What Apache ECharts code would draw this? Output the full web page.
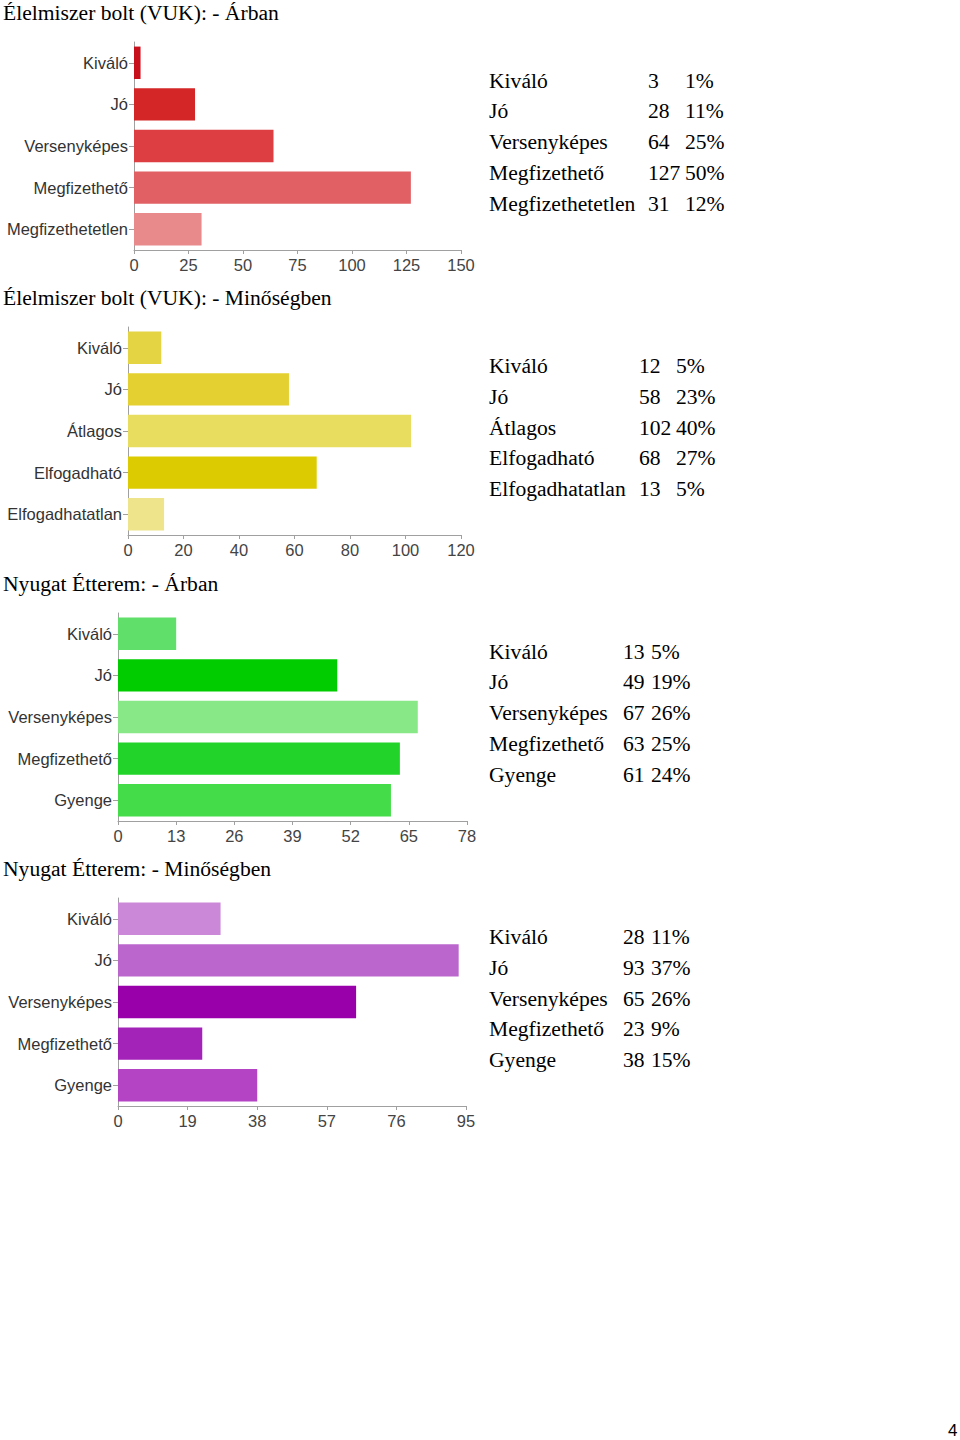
<!DOCTYPE html>
<html>
<head>
<meta charset="utf-8">
<script src="https://cdn.jsdelivr.net/npm/echarts@6/dist/echarts.min.js"></script>
<style>
html,body{margin:0;padding:0;background:#fff;}
#c{width:960px;height:1440px;}
</style>
</head>
<body>
<div id="c"></div>
<script>
// ---- data ----
const title1 = 'Élelmiszer bolt (VUK): - Árban';
const cats1 = ['Kiváló','Jó','Versenyképes','Megfizethető','Megfizethetetlen'];
const vals1 = [3,28,64,127,31];
const pcts1 = ['1%','11%','25%','50%','12%'];
const ticks1 = [0,25,50,75,100,125,150];

const title2 = 'Élelmiszer bolt (VUK): - Minőségben';
const cats2 = ['Kiváló','Jó','Átlagos','Elfogadható','Elfogadhatatlan'];
const vals2 = [12,58,102,68,13];
const pcts2 = ['5%','23%','40%','27%','5%'];
const ticks2 = [0,20,40,60,80,100,120];

const title3 = 'Nyugat Étterem: - Árban';
const cats3 = ['Kiváló','Jó','Versenyképes','Megfizethető','Gyenge'];
const vals3 = [13,49,67,63,61];
const pcts3 = ['5%','19%','26%','25%','24%'];
const ticks3 = [0,13,26,39,52,65,78];

const title4 = 'Nyugat Étterem: - Minőségben';
const cats4 = ['Kiváló','Jó','Versenyképes','Megfizethető','Gyenge'];
const vals4 = [28,93,65,23,38];
const pcts4 = ['11%','37%','26%','9%','15%'];
const ticks4 = [0,19,38,57,76,95];

const pageNumber = '4';

// ---- styles ----
const colors1 = ['#c8101c','#d42626','#dc3e42','#e06064','#e88a8c'];
const colors2 = ['#e4d444','#e4d030','#e9dd60','#dccb00','#ede48c'];
const colors3 = ['#60e06a','#00cc00','#88e888','#22d42a','#44dc48'];
const colors4 = ['#cc88d8','#bb66cc','#9900aa','#a322b8','#b444c4'];

const panels = [
  {title:title1,cats:cats1,vals:vals1,pcts:pcts1,ticks:ticks1,colors:colors1,
   titleY:13, left:134, right:461, top:42, tableY:80.5, cntX:648, pctX:685},
  {title:title2,cats:cats2,vals:vals2,pcts:pcts2,ticks:ticks2,colors:colors2,
   titleY:298, left:128, right:461, top:327, tableY:366, cntX:639, pctX:676},
  {title:title3,cats:cats3,vals:vals3,pcts:pcts3,ticks:ticks3,colors:colors3,
   titleY:584, left:118, right:467, top:613, tableY:651.5, cntX:623, pctX:651},
  {title:title4,cats:cats4,vals:vals4,pcts:pcts4,ticks:ticks4,colors:colors4,
   titleY:869, left:118, right:466, top:898, tableY:937, cntX:623, pctX:651}
];

const chart = echarts.init(document.getElementById('c'), null, {renderer:'svg'});
const axisColor = '#a0a0a0';
const sans = 'Liberation Sans, Arial, sans-serif';
const serif = 'Liberation Serif, Times New Roman, serif';
const serifFont = '21.6px ' + serif;

const grid = [], xAxis = [], yAxis = [], series = [], graphic = [];
panels.forEach((p, i) => {
  grid.push({left:p.left, top:p.top, width:p.right - p.left, height:208, containLabel:false});
  const tmin = p.ticks[0], tmax = p.ticks[p.ticks.length-1];
  xAxis.push({
    type:'value', gridIndex:i, min:tmin, max:tmax, interval:p.ticks[1]-p.ticks[0],
    axisLine:{show:true, lineStyle:{color:axisColor, width:1}},
    axisTick:{show:true, length:4, lineStyle:{color:axisColor}},
    splitLine:{show:false},
    axisLabel:{color:'#444', fontSize:16.5, fontFamily:sans, margin:6}
  });
  yAxis.push({
    type:'category', gridIndex:i, data:p.cats, inverse:true,
    axisLine:{show:true, lineStyle:{color:axisColor, width:1}},
    axisTick:{show:true, alignWithLabel:true, length:5, lineStyle:{color:axisColor}},
    axisLabel:{color:'#333', fontSize:16.5, fontFamily:sans, margin:6}
  });
  series.push({
    type:'bar', xAxisIndex:i, yAxisIndex:i, barCategoryGap:'22%',
    data:p.vals.map((v,k)=>({value:v, itemStyle:{color:p.colors[k]}})),
    silent:true, animation:false
  });
  graphic.push({type:'text', x:3, y:p.titleY,
    style:{text:p.title, font:serifFont, fill:'#000', verticalAlign:'middle'}});
  p.cats.forEach((c,k)=>{
    const y = p.tableY + k*30.75;
    graphic.push({type:'text', x:489, y:y, style:{text:c, font:serifFont, fill:'#000', verticalAlign:'middle'}});
    graphic.push({type:'text', x:p.cntX, y:y, style:{text:String(p.vals[k]), font:serifFont, fill:'#000', verticalAlign:'middle'}});
    graphic.push({type:'text', x:p.pctX, y:y, style:{text:p.pcts[k], font:serifFont, fill:'#000', verticalAlign:'middle'}});
  });
});
graphic.push({type:'text', x:948, y:1430, style:{text:pageNumber, font:'17px '+sans, fill:'#000', verticalAlign:'middle'}});

chart.setOption({animation:false, grid, xAxis, yAxis, series, graphic});
</script>
</body>
</html>
